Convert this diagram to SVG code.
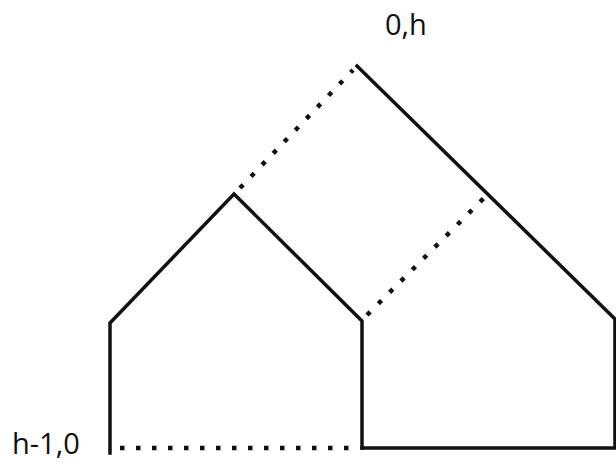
<svg xmlns="http://www.w3.org/2000/svg" width="616" height="468" viewBox="0 0 616 468">
<style>
.solid{fill:none;stroke:#111;stroke-width:3.5;stroke-linejoin:miter;stroke-linecap:square}
.dot{fill:none;stroke:#111;stroke-width:4.5;stroke-dasharray:4.5 11.5}
.lbl{font-family:"Open Sans","Liberation Sans",sans-serif;font-size:29px;fill:#111}
</style>
<rect width="616" height="468" fill="#fff"/>
<g id="connectors">
<path class="dot" d="M240,188 L353,70"/>
<path class="dot" d="M367,315 L485,197"/>
<path class="dot" d="M120,448 L358,448"/>
</g>
<g id="small-house">
<path class="solid" d="M110,453 L110,323 L234,194 L362,321 L362,448"/>
</g>
<g id="big-house">
<path class="solid" d="M357,66 L615,319 L615,448 L362,448"/>
</g>
<g id="labels">
<text class="lbl" x="385" y="35">0,h</text>
<text class="lbl" x="12" y="454">h-1,0</text>
</g>
</svg>
